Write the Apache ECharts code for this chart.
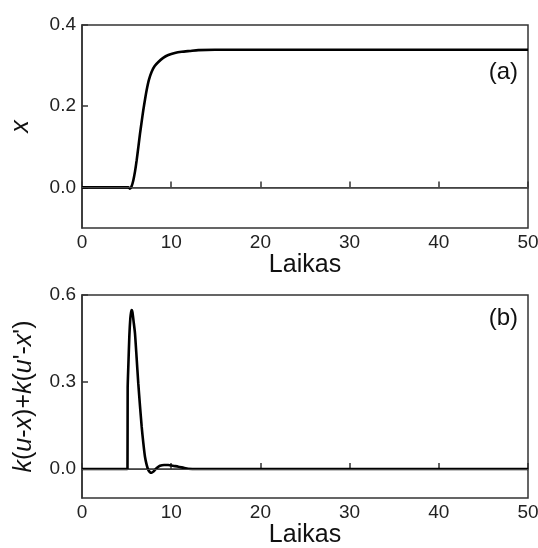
<!DOCTYPE html>
<html>
<head>
<meta charset="utf-8">
<script src="https://cdn.jsdelivr.net/npm/echarts@6/dist/echarts.min.js"></script>
<style>
  html, body { margin: 0; padding: 0; background: #fff; }
  #chart { width: 538px; height: 548px; }
</style>
</head>
<body>
<div id="chart"></div>
<script>
// panel (a): x vs time
const timeA = [0, 5.0, 5.2, 5.38, 5.55, 5.75, 5.95, 6.13, 6.32, 6.5, 6.69, 6.87, 7.06, 7.25, 7.5, 7.81, 8.15, 8.56, 9.1, 9.68, 10.4, 11.17, 12.1, 13.04, 14.9, 20, 30, 40, 50];
const xValues = [0, 0, 0, -0.003, 0.002, 0.017, 0.04, 0.067, 0.1, 0.132, 0.162, 0.19, 0.216, 0.24, 0.265, 0.285, 0.299, 0.309, 0.319, 0.326, 0.331, 0.334, 0.336, 0.338, 0.339, 0.339, 0.339, 0.339, 0.339];

// panel (b): k(u-x)+k(u'-x') vs time
const timeB = [0, 5.1, 5.12, 5.2, 5.31, 5.42, 5.5, 5.57, 5.66, 5.78, 5.94, 6.12, 6.31, 6.5, 6.69, 6.88, 7.06, 7.25, 7.43, 7.62, 7.81, 8.0, 8.18, 8.45, 8.74, 9.2, 9.68, 10.2, 10.8, 11.4, 11.9, 13, 50];
const ctrlValues = [0, 0, 0.28, 0.36, 0.46, 0.52, 0.54, 0.548, 0.54, 0.51, 0.468, 0.385, 0.295, 0.218, 0.146, 0.088, 0.042, 0.014, -0.003, -0.011, -0.013, -0.009, -0.003, 0.005, 0.011, 0.014, 0.014, 0.011, 0.008, 0.004, 0.001, 0, 0];

const xTicks = [0, 10, 20, 30, 40, 50];
const yTicksA = [0, 0.2, 0.4];
const yTicksB = [0, 0.3, 0.6];

const font = 'Liberation Sans, Arial, sans-serif';
const ink = '#222';

function pairs(xs, ys) {
    return xs.map((t, i) => [t, ys[i]]);
}

function xAxisFor(gridIndex) {
    return {
        type: 'value',
        gridIndex: gridIndex,
        min: 0,
        max: 50,
        interval: 10,
        name: 'Laikas',
        nameLocation: 'middle',
        nameGap: 24,
        nameTextStyle: { fontFamily: font, fontSize: 25, color: '#111' },
        axisLine: { show: true, lineStyle: { color: '#333', width: 1.5 } },
        axisTick: { show: true, inside: true, length: 6, lineStyle: { color: '#333', width: 1.5 } },
        axisLabel: {
            margin: 5,
            fontFamily: font, fontSize: 19, color: ink,
            customValues: xTicks
        },
        splitLine: { show: false }
    }
}

function yAxisFor(gridIndex, min, max, ticks, nameGap, name, rich) {
    return {
        type: 'value',
        gridIndex: gridIndex,
        min: min,
        max: max,
        name: name,
        nameLocation: 'middle',
        nameRotate: 90,
        nameGap: nameGap,
        nameTextStyle: { fontFamily: font, fontSize: 25, color: '#111', rich: rich },
        axisLine: { show: true, lineStyle: { color: '#333', width: 1.5 } },
        axisTick: { show: true, inside: true, length: 6, customValues: ticks, lineStyle: { color: '#333', width: 1.5 } },
        axisLabel: {
            margin: 6,
            fontFamily: font, fontSize: 19, color: ink,
            customValues: ticks,
            formatter: v => v.toFixed(1)
        },
        splitLine: { show: false }
    }
}

const zeroLine = {
    silent: true,
    symbol: 'none',
    label: { show: false },
    lineStyle: { color: '#444', width: 1, type: 'solid' },
    data: [{ yAxis: 0 }]
};

const italic = { fontFamily: font, fontSize: 25, fontStyle: 'italic', color: '#111' };
const plain = { fontFamily: font, fontSize: 25, color: '#111' };

const chart = echarts.init(document.getElementById('chart'), null, { renderer: 'canvas' });
chart.setOption({
    animation: false,
    backgroundColor: '#fff',
    grid: [
        { left: 82, right: 10, top: 25, height: 203, outerBoundsMode: 'none', show: true, borderColor: '#333', borderWidth: 1.5, backgroundColor: 'transparent' },
        { left: 82, right: 10, top: 295, height: 203, outerBoundsMode: 'none', show: true, borderColor: '#333', borderWidth: 1.5, backgroundColor: 'transparent' }
    ],
    xAxis: [xAxisFor(0), xAxisFor(1)],
    yAxis: [
        yAxisFor(0, -0.1, 0.4, yTicksA, 48, '{i|x}', { i: italic }),
        yAxisFor(1, -0.1, 0.6, yTicksB, 45,
            '{i|k}{p|(}{i|u}{p|-}{i|x}{p|)+}{i|k}{p|(}{i|u}{p|\'-}{i|x}{p|\')}', { i: italic, p: plain })
    ],
    graphic: [
        { type: 'text', right: 20, top: 60, style: { text: '(a)', font: '24px ' + font, fill: '#111' } },
        { type: 'text', right: 20, top: 306, style: { text: '(b)', font: '24px ' + font, fill: '#111' } }
    ],
    series: [
        {
            type: 'line',
            xAxisIndex: 0,
            yAxisIndex: 0,
            data: pairs(timeA, xValues),
            showSymbol: false,
            smooth: 0.2,
            lineStyle: { color: '#000', width: 2.6 },
            markLine: zeroLine,
            z: 3
        },
        {
            type: 'line',
            xAxisIndex: 1,
            yAxisIndex: 1,
            data: pairs(timeB, ctrlValues),
            showSymbol: false,
            smooth: 0.2,
            lineStyle: { color: '#000', width: 2.6 },
            markLine: zeroLine,
            z: 3
        }
    ]
});
</script>
</body>
</html>
